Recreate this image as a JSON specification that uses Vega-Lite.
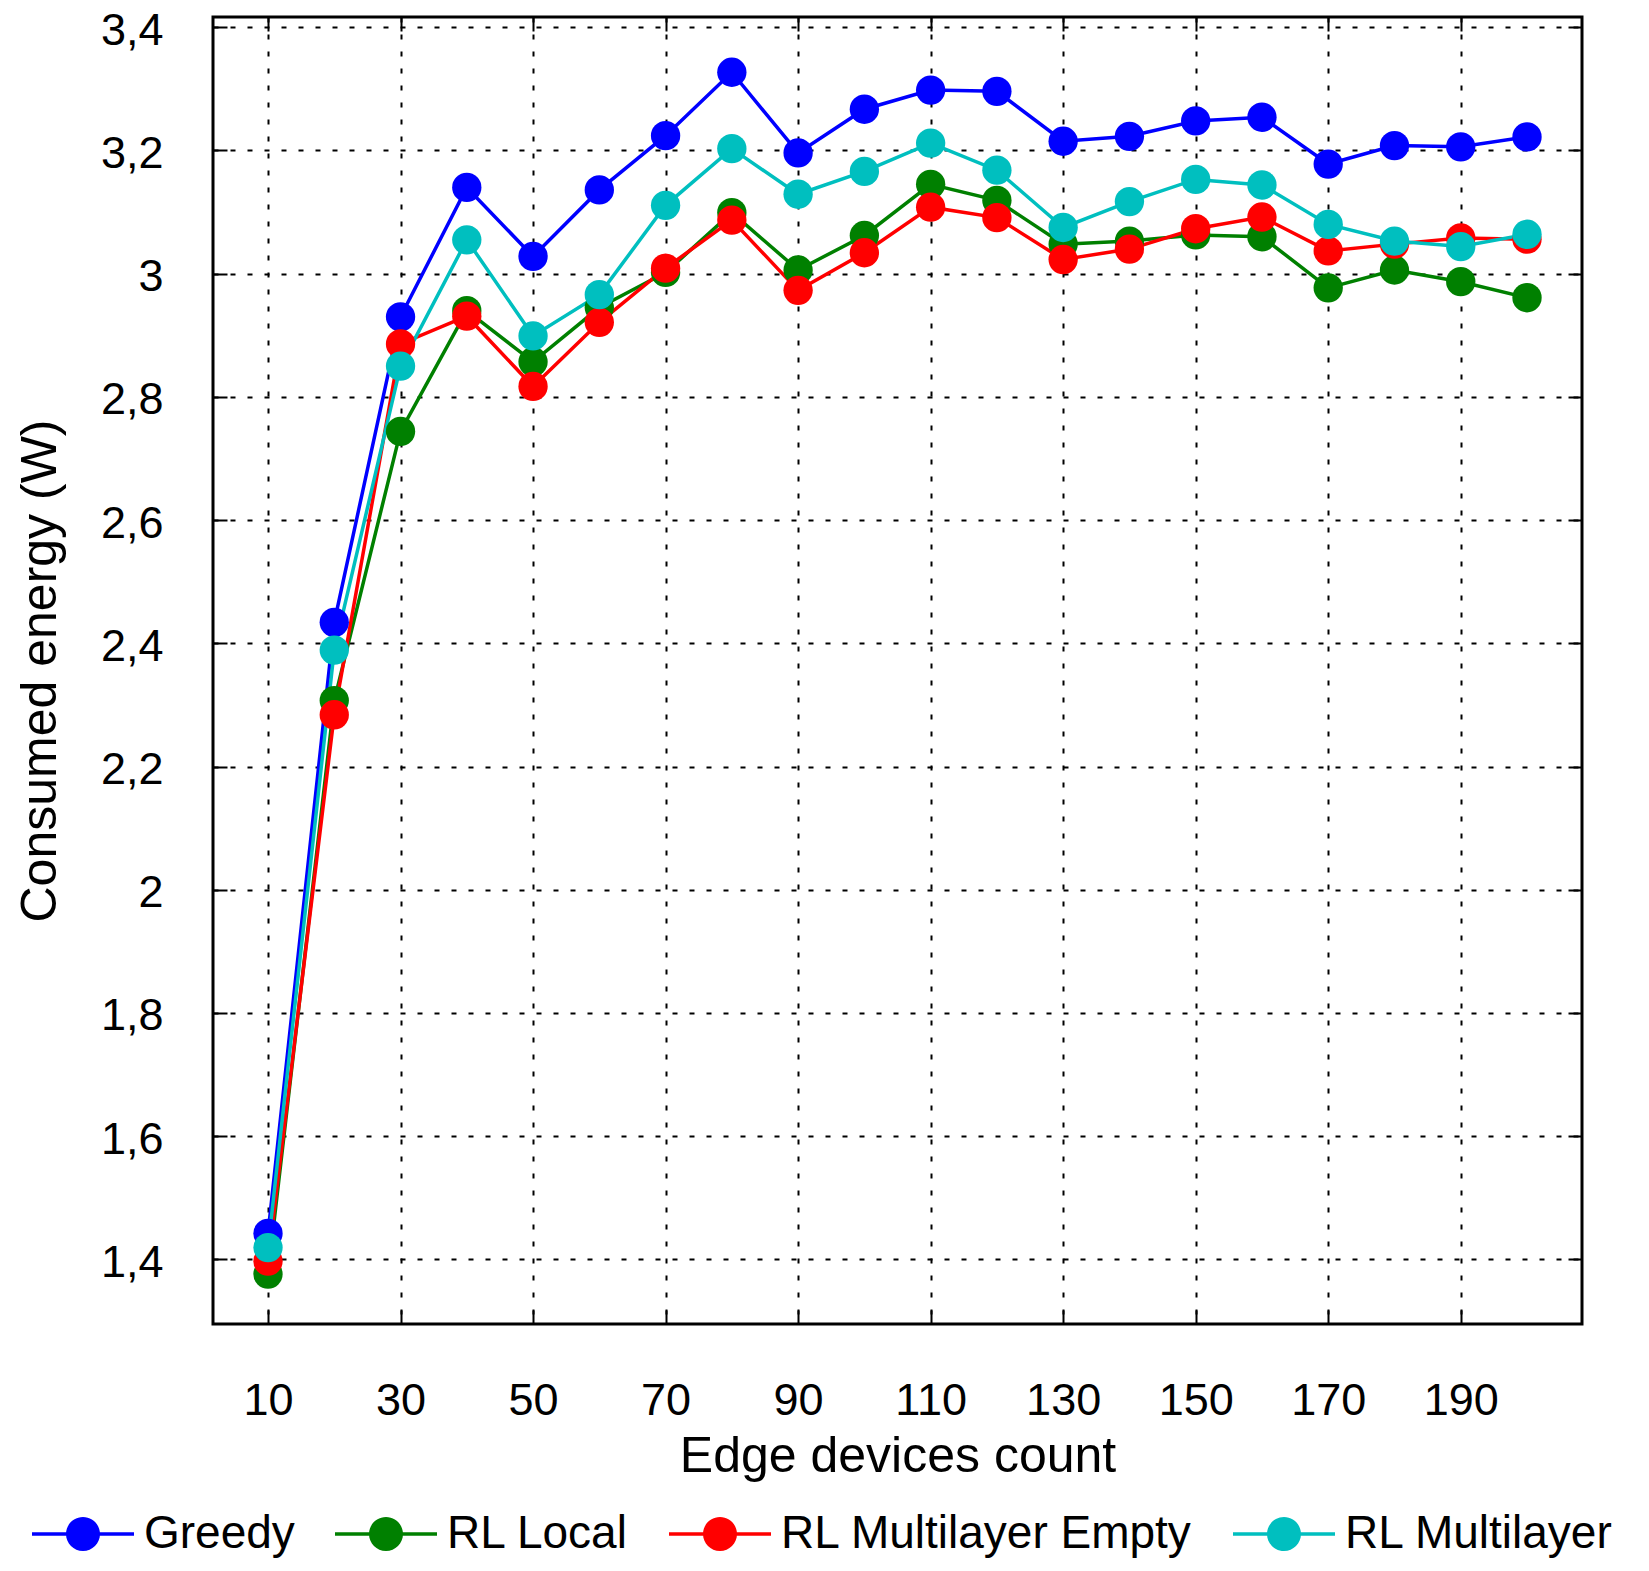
{
  "$schema": "https://vega.github.io/schema/vega-lite/v6.json",
  "width": 1369,
  "height": 1307,
  "autosize": {"type": "none"},
  "padding": {"left": 213, "top": 17, "right": 67, "bottom": 247},
  "background": "white",
  "data": {
    "values": [
      {"series": "Greedy", "devices": 10, "energy": 1.442},
      {"series": "Greedy", "devices": 20, "energy": 2.434},
      {"series": "Greedy", "devices": 30, "energy": 2.930},
      {"series": "Greedy", "devices": 40, "energy": 3.140},
      {"series": "Greedy", "devices": 50, "energy": 3.028},
      {"series": "Greedy", "devices": 60, "energy": 3.136},
      {"series": "Greedy", "devices": 70, "energy": 3.224},
      {"series": "Greedy", "devices": 80, "energy": 3.327},
      {"series": "Greedy", "devices": 90, "energy": 3.196},
      {"series": "Greedy", "devices": 100, "energy": 3.267},
      {"series": "Greedy", "devices": 110, "energy": 3.298},
      {"series": "Greedy", "devices": 120, "energy": 3.296},
      {"series": "Greedy", "devices": 130, "energy": 3.215},
      {"series": "Greedy", "devices": 140, "energy": 3.223},
      {"series": "Greedy", "devices": 150, "energy": 3.248},
      {"series": "Greedy", "devices": 160, "energy": 3.254},
      {"series": "Greedy", "devices": 170, "energy": 3.178},
      {"series": "Greedy", "devices": 180, "energy": 3.208},
      {"series": "Greedy", "devices": 190, "energy": 3.206},
      {"series": "Greedy", "devices": 200, "energy": 3.222},
      {"series": "RL Local", "devices": 10, "energy": 1.376},
      {"series": "RL Local", "devices": 20, "energy": 2.307},
      {"series": "RL Local", "devices": 30, "energy": 2.744},
      {"series": "RL Local", "devices": 40, "energy": 2.940},
      {"series": "RL Local", "devices": 50, "energy": 2.857},
      {"series": "RL Local", "devices": 60, "energy": 2.945},
      {"series": "RL Local", "devices": 70, "energy": 3.002},
      {"series": "RL Local", "devices": 80, "energy": 3.099},
      {"series": "RL Local", "devices": 90, "energy": 3.006},
      {"series": "RL Local", "devices": 100, "energy": 3.062},
      {"series": "RL Local", "devices": 110, "energy": 3.145},
      {"series": "RL Local", "devices": 120, "energy": 3.119},
      {"series": "RL Local", "devices": 130, "energy": 3.048},
      {"series": "RL Local", "devices": 140, "energy": 3.053},
      {"series": "RL Local", "devices": 150, "energy": 3.063},
      {"series": "RL Local", "devices": 160, "energy": 3.060},
      {"series": "RL Local", "devices": 170, "energy": 2.977},
      {"series": "RL Local", "devices": 180, "energy": 3.006},
      {"series": "RL Local", "devices": 190, "energy": 2.987},
      {"series": "RL Local", "devices": 200, "energy": 2.961},
      {"series": "RL Multilayer Empty", "devices": 10, "energy": 1.397},
      {"series": "RL Multilayer Empty", "devices": 20, "energy": 2.284},
      {"series": "RL Multilayer Empty", "devices": 30, "energy": 2.886},
      {"series": "RL Multilayer Empty", "devices": 40, "energy": 2.931},
      {"series": "RL Multilayer Empty", "devices": 50, "energy": 2.817},
      {"series": "RL Multilayer Empty", "devices": 60, "energy": 2.921},
      {"series": "RL Multilayer Empty", "devices": 70, "energy": 3.009},
      {"series": "RL Multilayer Empty", "devices": 80, "energy": 3.087},
      {"series": "RL Multilayer Empty", "devices": 90, "energy": 2.973},
      {"series": "RL Multilayer Empty", "devices": 100, "energy": 3.034},
      {"series": "RL Multilayer Empty", "devices": 110, "energy": 3.108},
      {"series": "RL Multilayer Empty", "devices": 120, "energy": 3.091},
      {"series": "RL Multilayer Empty", "devices": 130, "energy": 3.023},
      {"series": "RL Multilayer Empty", "devices": 140, "energy": 3.040},
      {"series": "RL Multilayer Empty", "devices": 150, "energy": 3.073},
      {"series": "RL Multilayer Empty", "devices": 160, "energy": 3.092},
      {"series": "RL Multilayer Empty", "devices": 170, "energy": 3.037},
      {"series": "RL Multilayer Empty", "devices": 180, "energy": 3.048},
      {"series": "RL Multilayer Empty", "devices": 190, "energy": 3.058},
      {"series": "RL Multilayer Empty", "devices": 200, "energy": 3.056},
      {"series": "RL Multilayer", "devices": 10, "energy": 1.419},
      {"series": "RL Multilayer", "devices": 20, "energy": 2.389},
      {"series": "RL Multilayer", "devices": 30, "energy": 2.850},
      {"series": "RL Multilayer", "devices": 40, "energy": 3.055},
      {"series": "RL Multilayer", "devices": 50, "energy": 2.899},
      {"series": "RL Multilayer", "devices": 60, "energy": 2.966},
      {"series": "RL Multilayer", "devices": 70, "energy": 3.111},
      {"series": "RL Multilayer", "devices": 80, "energy": 3.203},
      {"series": "RL Multilayer", "devices": 90, "energy": 3.129},
      {"series": "RL Multilayer", "devices": 100, "energy": 3.166},
      {"series": "RL Multilayer", "devices": 110, "energy": 3.212},
      {"series": "RL Multilayer", "devices": 120, "energy": 3.168},
      {"series": "RL Multilayer", "devices": 130, "energy": 3.075},
      {"series": "RL Multilayer", "devices": 140, "energy": 3.117},
      {"series": "RL Multilayer", "devices": 150, "energy": 3.153},
      {"series": "RL Multilayer", "devices": 160, "energy": 3.144},
      {"series": "RL Multilayer", "devices": 170, "energy": 3.080},
      {"series": "RL Multilayer", "devices": 180, "energy": 3.053},
      {"series": "RL Multilayer", "devices": 190, "energy": 3.044},
      {"series": "RL Multilayer", "devices": 200, "energy": 3.064}
    ]
  },
  "layer": [
    {
      "mark": {"type": "line", "strokeWidth": 3.5},
      "encoding": {
        "x": {
          "field": "devices", "type": "quantitative",
          "scale": {"domain": [1.7, 208.3], "nice": false, "zero": false},
          "axis": {
            "title": "Edge devices count",
            "values": [10, 30, 50, 70, 90, 110, 130, 150, 170, 190],
            "grid": true, "gridDash": [5, 12], "gridColor": "black", "gridWidth": 2, "gridOpacity": 1,
            "domain": false,
            "tickSize": -14, "tickColor": "black", "tickWidth": 2,
            "labelPadding": 104, "labelBaseline": "alphabetic",
            "titleY": 147, "titleBaseline": "alphabetic"
          }
        },
        "y": {
          "field": "energy", "type": "quantitative",
          "scale": {"domain": [1.295, 3.4167], "nice": false, "zero": false},
          "axis": {
            "title": "Consumed energy (W)",
            "values": [1.4, 1.6, 1.8, 2, 2.2, 2.4, 2.6, 2.8, 3, 3.2, 3.4],
            "format": "~g",
            "labelExpr": "replace(datum.label, '.', ',')",
            "grid": true, "gridDash": [5, 12], "gridColor": "black", "gridWidth": 2, "gridOpacity": 1,
            "domain": false,
            "tickSize": -14, "tickColor": "black", "tickWidth": 2,
            "labelPadding": 64, "labelOffset": 3,
            "titleX": -158, "titleBaseline": "alphabetic"
          }
        },
        "color": {
          "field": "series", "type": "nominal",
          "scale": {
            "domain": ["Greedy", "RL Local", "RL Multilayer Empty", "RL Multilayer"],
            "range": ["#0000ff", "#008000", "#ff0000", "#00bfbf"]
          },
          "legend": {
            "title": null,
            "orient": "none",
            "direction": "horizontal",
            "legendX": -153,
            "legendY": 1494,
            "padding": 0,
            "symbolType": "M-3,-0.1H3V0.1H-3ZM1,0A1,1,0,1,1,-1,0A1,1,0,1,1,1,0Z",
            "symbolSize": 1156,
            "symbolStrokeWidth": 0,
            "symbolOpacity": 1,
            "labelOffset": 38,
            "columnPadding": 40,
            "labelFontSize": 46,
            "labelFont": "Liberation Sans",
            "labelColor": "black",
            "labelLimit": 0,
            "encode": {
              "symbols": {
                "update": {
                  "fill": {"scale": "color", "field": "value"},
                  "stroke": {"value": "transparent"}
                }
              }
            }
          }
        }
      }
    },
    {
      "mark": {"type": "point", "filled": true, "size": 860, "opacity": 1},
      "encoding": {
        "x": {
          "field": "devices", "type": "quantitative",
          "axis": {
            "orient": "top", "title": null, "labels": false, "grid": false, "domain": false,
            "values": [10, 30, 50, 70, 90, 110, 130, 150, 170, 190],
            "tickSize": -14, "tickColor": "black", "tickWidth": 2
          }
        },
        "y": {
          "field": "energy", "type": "quantitative",
          "axis": {
            "orient": "right", "title": null, "labels": false, "grid": false, "domain": false,
            "values": [1.4, 1.6, 1.8, 2, 2.2, 2.4, 2.6, 2.8, 3, 3.2, 3.4],
            "tickSize": -14, "tickColor": "black", "tickWidth": 2
          }
        },
        "color": {"field": "series", "type": "nominal"}
      }
    }
  ],
  "resolve": {"axis": {"x": "independent", "y": "independent"}},
  "config": {
    "view": {"stroke": "black", "strokeWidth": 3},
    "font": "Liberation Sans",
    "axis": {
      "labelFont": "Liberation Sans",
      "labelFontSize": 45,
      "labelColor": "black",
      "titleFont": "Liberation Sans",
      "titleFontSize": 50,
      "titleFontWeight": "normal",
      "titleColor": "black"
    }
  }
}
